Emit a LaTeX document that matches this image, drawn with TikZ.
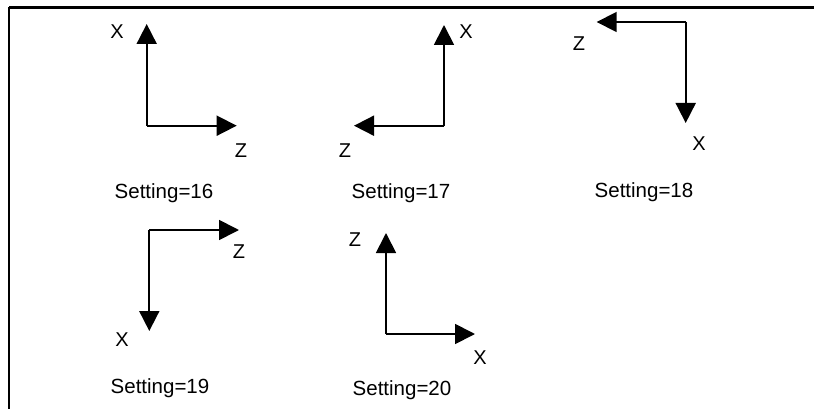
\documentclass[tikz,border=0pt]{standalone}
\usepackage{fontspec}
\setmainfont{Liberation Sans}
\usetikzlibrary{arrows.meta}
\tikzset{
  axisarrow/.style={line width=1.8pt, -{Triangle[length=20pt,width=20pt]}},
  axislbl/.style={inner sep=0pt, font=\fontsize{20}{24}\selectfont},
  settingtxt/.style={inner sep=0pt, anchor=base, font=\fontsize{20.5}{24}\selectfont}
}
\begin{document}
\begin{tikzpicture}[x=1pt,y=-1pt]
\useasboundingbox (0,0) rectangle (814,409);
% frame
\draw[line width=2.2pt] (9,7.5) -- (814,7.5);
\draw[line width=1.8pt] (9,7.5) -- (9,409);

% Setting 16
\coordinate (o16) at (146.7,125.7);
\coordinate (x16) at (146.7,24);
\coordinate (z16) at (236.7,125.7);
\draw[axisarrow] (o16) -- (x16);
\draw[axisarrow] (o16) -- (z16);
\node[axislbl] (lx16) at (117,32) {X};
\node[axislbl] (lz16) at (241,151) {Z};
\node[settingtxt] (s16) at (164,198) {Setting=16};

% Setting 17
\coordinate (o17) at (444,125.7);
\coordinate (x17) at (444,25);
\coordinate (z17) at (354,125.7);
\draw[axisarrow] (o17) -- (x17);
\draw[axisarrow] (o17) -- (z17);
\node[axislbl] (lx17) at (466,32) {X};
\node[axislbl] (lz17) at (345,151) {Z};
\node[settingtxt] (s17) at (401,198) {Setting=17};

% Setting 18
\coordinate (o18) at (685.7,22);
\coordinate (z18) at (596.7,22);
\coordinate (x18) at (685.7,123);
\draw[axisarrow] (o18) -- (z18);
\draw[axisarrow] (o18) -- (x18);
\node[axislbl] (lz18) at (579,44) {Z};
\node[axislbl] (lx18) at (699,144) {X};
\node[settingtxt] (s18) at (644,197) {Setting=18};

% Setting 19
\coordinate (o19) at (149.3,230);
\coordinate (z19) at (239,230);
\coordinate (x19) at (149.3,331);
\draw[axisarrow] (o19) -- (z19);
\draw[axisarrow] (o19) -- (x19);
\node[axislbl] (lz19) at (239,252) {Z};
\node[axislbl] (lx19) at (122,340) {X};
\node[settingtxt] (s19) at (160,393) {Setting=19};

% Setting 20
\coordinate (o20) at (386,334);
\coordinate (z20) at (386,233);
\coordinate (x20) at (475,334);
\draw[axisarrow] (o20) -- (z20);
\draw[axisarrow] (o20) -- (x20);
\node[axislbl] (lz20) at (355,240) {Z};
\node[axislbl] (lx20) at (480,358) {X};
\node[settingtxt] (s20) at (402,395) {Setting=20};
\end{tikzpicture}
\end{document}
